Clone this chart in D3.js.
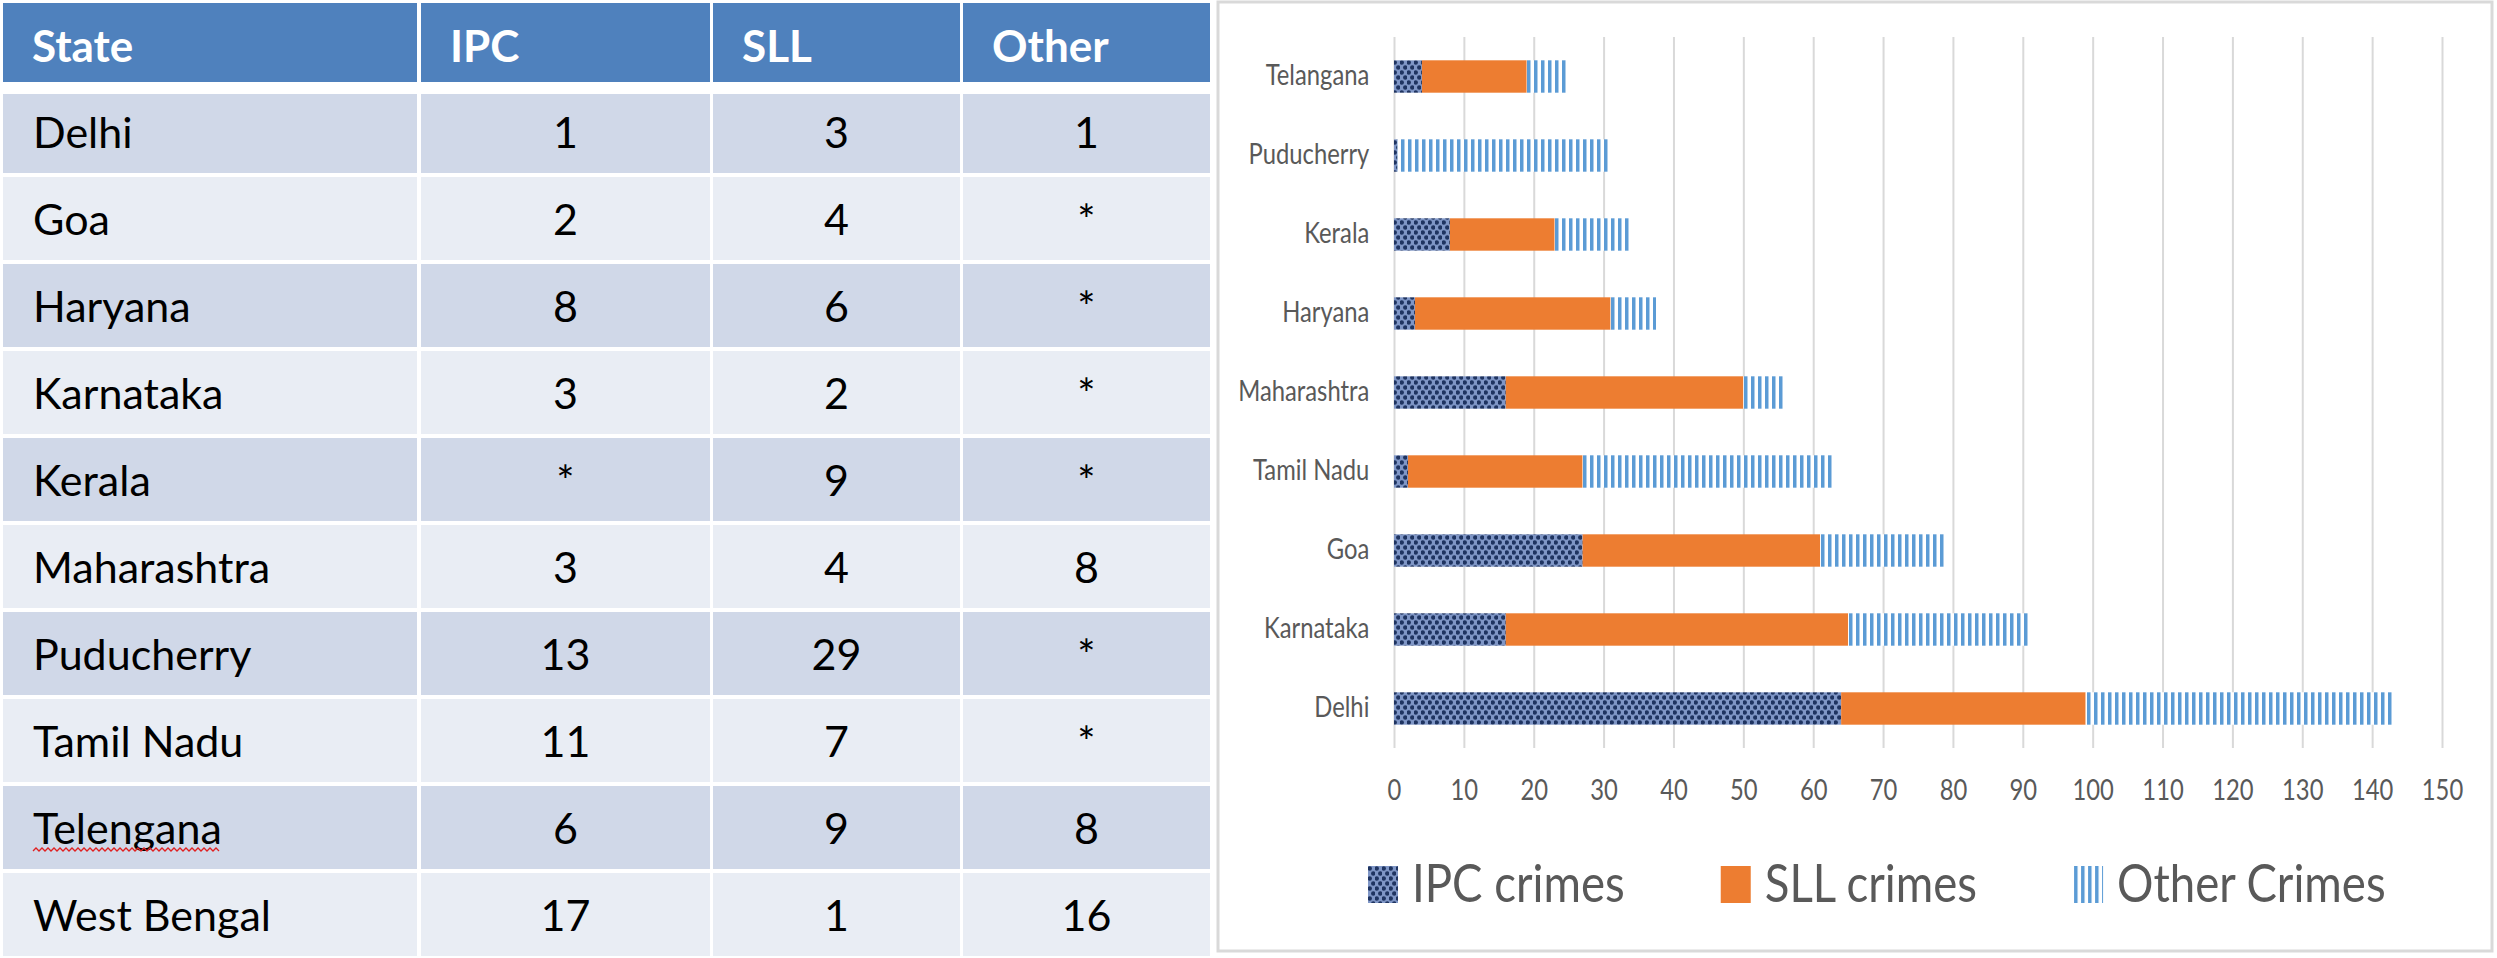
<!DOCTYPE html>
<html>
<head>
<meta charset='UTF-8'>
<title>Crimes by State</title>
<script src='https://cdn.jsdelivr.net/npm/d3@7'></script>
<style>
  body {margin:0; background:#fff;}
  text {font-family: Lato, 'Open Sans', sans-serif;}
</style>
</head>
<body>
<div id='chart'></div>
<script>
/* Table data */
var tableHeaders = ['State', 'IPC', 'SLL', 'Other'];
var tableStates = ['Delhi', 'Goa', 'Haryana', 'Karnataka', 'Kerala', 'Maharashtra', 'Puducherry', 'Tamil Nadu', 'Telengana', 'West Bengal'];
var tableIPC = ['1', '2', '8', '3', '*', '3', '13', '11', '6', '17'];
var tableSLL = ['3', '4', '6', '2', '9', '4', '29', '7', '9', '1'];
var tableOther = ['1', '*', '*', '*', '*', '8', '*', '*', '8', '16'];

/* Bar chart data (top to bottom) */
var chartStates = ['Telangana', 'Puducherry', 'Kerala', 'Haryana', 'Maharashtra', 'Tamil Nadu', 'Goa', 'Karnataka', 'Delhi'];
var ipcCrimes = [4, 0.5, 8, 3, 16, 2, 27, 16, 64];
var sllCrimes = [15, 0, 15, 28, 34, 25, 34, 49, 35];
var otherCrimes = [6, 30.5, 11, 6.5, 6, 36, 18, 26, 44];
var seriesNames = ['IPC crimes', 'SLL crimes', 'Other Crimes'];
var xTicks = [0, 10, 20, 30, 40, 50, 60, 70, 80, 90, 100, 110, 120, 130, 140, 150];

var width = 2497;
var height = 958;
var chartTextScale = 0.85;
var grey = '#595959';

var svg = d3.select('#chart').append('svg')
  .attr('width', width)
  .attr('height', height);

/* Patterns */
var defs = svg.append('defs');
var ipcPat = defs.append('pattern')
  .attr('id', 'ipcPattern')
  .attr('patternUnits', 'userSpaceOnUse')
  .attr('width', 7)
  .attr('height', 10);
ipcPat.append('rect').attr('width', 7).attr('height', 10).attr('fill', '#7f96c6');
ipcPat.append('circle').attr('cx', 1.75).attr('cy', 2.5).attr('r', 2.2).attr('fill', '#1f3461');
ipcPat.append('circle').attr('cx', 5.25).attr('cy', 7.5).attr('r', 2.2).attr('fill', '#1f3461');

var otherPat = defs.append('pattern')
  .attr('id', 'otherPattern')
  .attr('patternUnits', 'userSpaceOnUse')
  .attr('width', 7)
  .attr('height', 10);
otherPat.append('rect').attr('width', 7).attr('height', 10).attr('fill', '#fff');
otherPat.append('rect').attr('x', 1).attr('width', 3.5).attr('height', 10).attr('fill', '#5B9BD5');

var fills = ['url(#ipcPattern)', '#ED7D31', 'url(#otherPattern)'];

/* ---------- Table ---------- */
var colX = [3, 421, 713, 963];
var colW = [414, 289, 247, 247];
var rowH = 83;
var rowScale = d3.scaleBand().domain(tableStates).range([90, 960]);

var table = svg.append('g').attr('class', 'table');

table.selectAll('.head-cell')
  .data(tableHeaders).enter()
  .append('rect')
  .attr('class', 'head-cell')
  .attr('x', (d, i) => colX[i])
  .attr('y', 3)
  .attr('width', (d, i) => colW[i])
  .attr('height', 79)
  .attr('fill', '#4F81BD');

table.selectAll('.head-text')
  .data(tableHeaders).enter()
  .append('text')
  .attr('class', 'head-text')
  .attr('x', (d, i) => colX[i] + 29)
  .attr('y', 62)
  .attr('fill', '#fff')
  .attr('font-weight', 'bold')
  .attr('font-size', 44)
  .text(d => d);

var rows = tableStates.map(function(s, i) {
  return {state: s, i: i, cells: [s, tableIPC[i], tableSLL[i], tableOther[i]]};
});

var rowG = table.selectAll('.row')
  .data(rows).enter()
  .append('g')
  .attr('class', 'row')
  .attr('transform', d => `translate(0, ${rowScale(d.state)})`);

rowG.selectAll('rect')
  .data(d => d.cells.map(c => ({v: c, i: d.i}))).enter()
  .append('rect')
  .attr('x', (d, j) => colX[j])
  .attr('y', d => d.i === 0 ? 4 : 0)
  .attr('width', (d, j) => colW[j])
  .attr('height', d => d.i === 0 ? rowH - 4 : rowH)
  .attr('fill', d => d.i % 2 === 0 ? '#D0D8E8' : '#E9EDF4');

rowG.selectAll('text')
  .data(d => d.cells.map(c => ({v: c, i: d.i}))).enter()
  .append('text')
  .attr('x', (d, j) => j === 0 ? colX[0] + 30 : colX[j] + colW[j] / 2)
  .attr('y', rowH / 2 + 16)
  .attr('text-anchor', (d, j) => j === 0 ? 'start' : 'middle')
  .attr('font-size', 43)
  .attr('fill', '#000')
  .text(d => d.v);

/* spell-check squiggle under Telengana */
var telText = rowG.filter(d => d.state === 'Telengana').select('text');
var telW = telText.node().getComputedTextLength();
var squiggle = [];
for (var sx = 0; sx <= telW; sx += 3) squiggle.push([colX[0] + 30 + sx, (sx / 3) % 2 ? -1.5 : 1.5]);
rowG.filter(d => d.state === 'Telengana')
  .append('path')
  .attr('d', d3.line().x(d => d[0]).y(d => rowH / 2 + 22 + d[1])(squiggle))
  .attr('fill', 'none')
  .attr('stroke', '#e02020')
  .attr('stroke-width', 1.3);

/* ---------- Chart ---------- */
svg.append('rect')
  .attr('x', 1218).attr('y', 2)
  .attr('width', 1274).attr('height', 949)
  .attr('fill', '#fff')
  .attr('stroke', '#d9d9d9')
  .attr('stroke-width', 3);

var plot = {left: 1394, right: 2442, top: 37, bottom: 748};

var x = d3.scaleLinear()
  .domain([0, 150])
  .range([plot.left, plot.right]);

var y = d3.scaleBand()
  .domain(chartStates)
  .range([plot.top, plot.bottom])
  .paddingInner(0.59)
  .paddingOuter(0.295);

/* gridlines + x labels */
svg.append('g')
  .attr('class', 'x axis')
  .attr('transform', `translate(0, ${plot.bottom})`)
  .call(d3.axisBottom(x).tickValues(xTicks).tickSize(-(plot.bottom - plot.top)).tickPadding(32))
  .call(g => g.select('.domain').remove())
  .call(g => g.selectAll('line').attr('stroke', '#d9d9d9').attr('stroke-width', 2))
  .call(g => g.selectAll('text')
    .attr('fill', grey)
    .attr('font-size', 28)
    .attr('transform', `scale(${chartTextScale},1)`));

/* stacked bars */
var stackRows = chartStates.map(function(s, i) {
  return {state: s, ipc: ipcCrimes[i], sll: sllCrimes[i], other: otherCrimes[i]};
});
var stacked = d3.stack().keys(['ipc', 'sll', 'other'])(stackRows);

svg.append('g')
  .attr('class', 'bars')
  .selectAll('g')
  .data(stacked).enter()
  .append('g')
  .attr('fill', (d, i) => fills[i])
  .selectAll('rect')
  .data(d => d).enter()
  .append('rect')
  .attr('x', d => x(d[0]))
  .attr('y', d => y(d.data.state))
  .attr('width', d => x(d[1]) - x(d[0]))
  .attr('height', y.bandwidth());

/* category labels */
svg.append('g')
  .attr('class', 'y axis')
  .attr('transform', `translate(${plot.left}, 0)`)
  .call(d3.axisLeft(y).tickSize(0).tickPadding(29))
  .call(g => g.select('.domain').remove())
  .call(g => g.selectAll('text')
    .attr('fill', grey)
    .attr('font-size', 28)
    .attr('transform', `scale(${chartTextScale},1)`));

/* legend */
var legend = svg.append('g').attr('class', 'legend');
var lx = 1368;
seriesNames.forEach(function(name, i) {
  var item = legend.append('g').attr('transform', `translate(${lx}, 866)`);
  item.append('rect')
    .attr('width', 30)
    .attr('height', 37)
    .attr('fill', fills[i]);
  var t = item.append('g')
    .attr('transform', `translate(44, 36) scale(0.86,1)`)
    .append('text')
    .attr('font-size', 53)
    .attr('fill', grey)
    .text(name);
  lx += 44 + t.node().getComputedTextLength() * 0.86 + 96;
});
</script>
</body>
</html>
